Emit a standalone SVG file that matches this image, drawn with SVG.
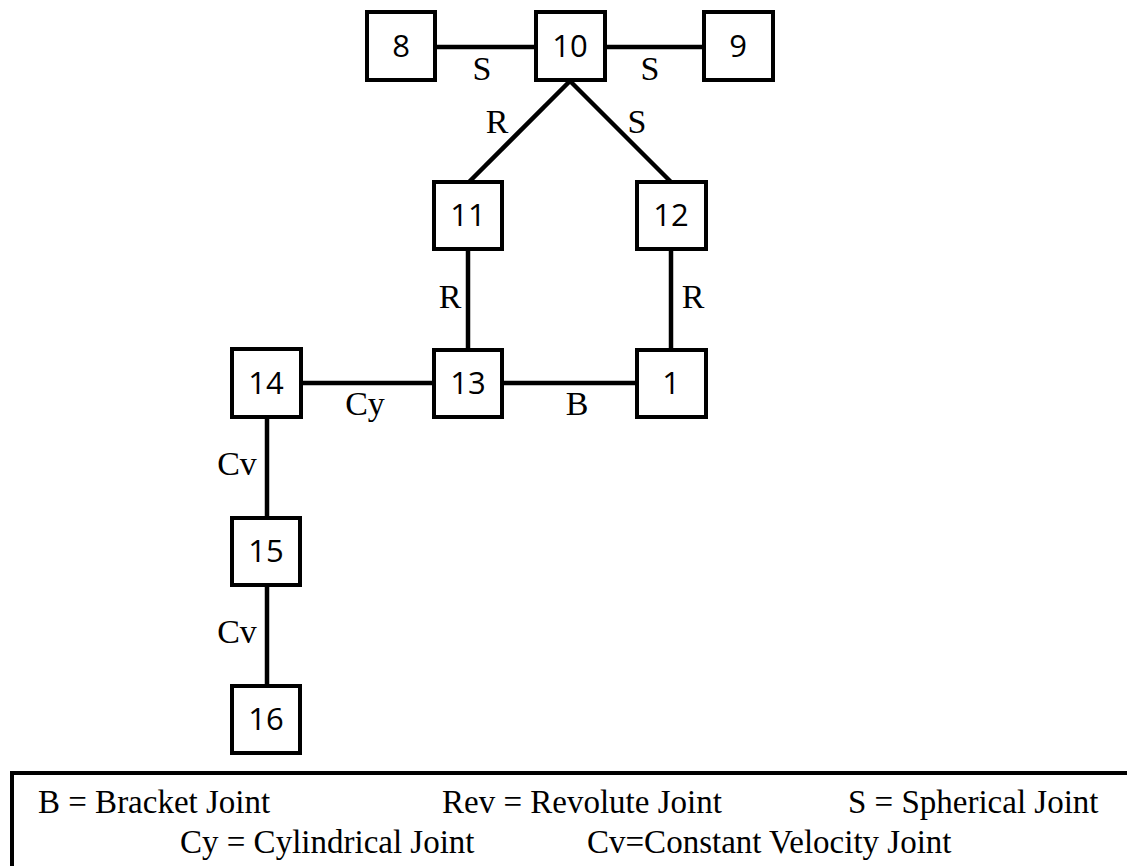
<svg xmlns="http://www.w3.org/2000/svg" width="1127" height="866" viewBox="0 0 1127 866">
<style>
.box{fill:#fff;stroke:#000;stroke-width:4}
.num{font-family:"Open Sans","Liberation Sans",sans-serif;font-size:31px;text-anchor:middle;fill:#000}
.lbl{font-family:"Liberation Serif",serif;font-size:34px;text-anchor:middle;fill:#000}
.leg{font-family:"Liberation Serif",serif;font-size:33px;fill:#000}
.con line{stroke:#000;stroke-width:4.5}
</style>
<rect width="1127" height="866" fill="#fff"/>
<g id="connectors" class="con">
<line x1="436" y1="47" x2="536" y2="47"/>
<line x1="605" y1="47" x2="704" y2="47"/>
<line x1="570" y1="81" x2="469" y2="182"/>
<line x1="570" y1="81" x2="671" y2="182"/>
<line x1="468" y1="249" x2="468" y2="350"/>
<line x1="671" y1="249" x2="671" y2="350"/>
<line x1="301" y1="383" x2="434" y2="383"/>
<line x1="502" y1="383" x2="637" y2="383"/>
<line x1="267" y1="417" x2="267" y2="518"/>
<line x1="267" y1="585" x2="267" y2="686"/>
</g>
<g id="connector-labels">
<text class="lbl" x="482" y="80">S</text>
<text class="lbl" x="650" y="80">S</text>
<text class="lbl" x="497" y="133">R</text>
<text class="lbl" x="637" y="133">S</text>
<text class="lbl" x="450" y="308">R</text>
<text class="lbl" x="693" y="308">R</text>
<text class="lbl" x="577" y="415">B</text>
<text class="lbl" x="365" y="415">Cy</text>
<text class="lbl" x="237" y="475">Cv</text>
<text class="lbl" x="237" y="643">Cv</text>
</g>
<g id="node-8"><rect class="box" x="367" y="12" width="68" height="68"/><text class="num" x="401" y="57">8</text></g>
<g id="node-10"><rect class="box" x="536" y="12" width="69" height="68"/><text class="num" x="570" y="57">10</text></g>
<g id="node-9"><rect class="box" x="704" y="12" width="69" height="68"/><text class="num" x="738" y="57">9</text></g>
<g id="node-11"><rect class="box" x="434" y="182" width="68" height="67"/><text class="num" x="468" y="226">11</text></g>
<g id="node-12"><rect class="box" x="637" y="182" width="69" height="67"/><text class="num" x="671" y="226">12</text></g>
<g id="node-13"><rect class="box" x="434" y="350" width="68" height="67"/><text class="num" x="468" y="394">13</text></g>
<g id="node-1"><rect class="box" x="637" y="350" width="69" height="67"/><text class="num" x="671" y="394">1</text></g>
<g id="node-14"><rect class="box" x="232" y="349" width="69" height="68"/><text class="num" x="266" y="394">14</text></g>
<g id="node-15"><rect class="box" x="232" y="518" width="68" height="67"/><text class="num" x="266" y="562">15</text></g>
<g id="node-16"><rect class="box" x="232" y="686" width="68" height="67"/><text class="num" x="266" y="730">16</text></g>
<g id="legend">
<rect x="12" y="773" width="1140" height="120" fill="#fff" stroke="#000" stroke-width="4"/>
<text class="leg" x="38" y="813">B = Bracket Joint</text>
<text class="leg" x="442" y="813">Rev = Revolute Joint</text>
<text class="leg" x="848" y="813">S = Spherical Joint</text>
<text class="leg" x="180" y="853">Cy = Cylindrical Joint</text>
<text class="leg" x="587" y="853">Cv=Constant Velocity Joint</text>
</g>
</svg>
